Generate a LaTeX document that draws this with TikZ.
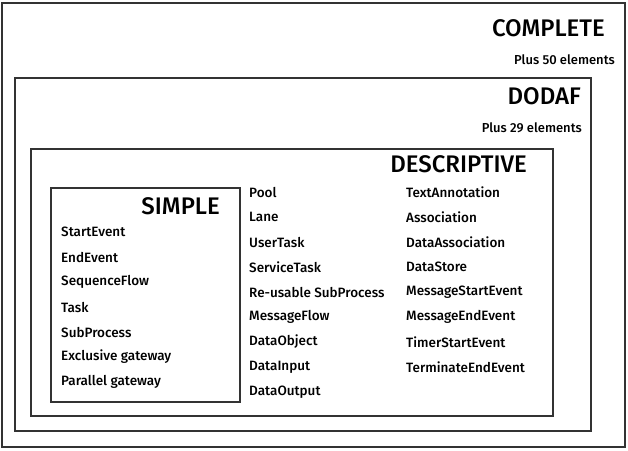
\documentclass[tikz,border=0pt]{standalone}
\usepackage{fontspec}
\setmainfont{Fira Sans}
\newfontfamily\tierfont{Fira Sans Medium}
\providecommand{\tierStroke}{black!80}
\usetikzlibrary{positioning}
\tikzset{
  tier/.style 2 args={draw=\tierStroke,line width=1.5pt,minimum width=#1,minimum height=#2,inner sep=0pt},
  head/.style={font=\tierfont\fontsize{24}{28}\selectfont,inner sep=0pt,anchor=east},
  subhead/.style={font=\tierfont\fontsize{13}{15}\selectfont,inner sep=0pt,anchor=east},
  item/.style={font=\tierfont\fontsize{13.5}{16}\selectfont,inner sep=0pt,anchor=west},
}
\begin{document}
\begin{tikzpicture}[x=1pt,y=-1pt]
  \useasboundingbox (0,0) rectangle (628,450);
% --- Tier boxes ------------------------------------------------------------

  \node[tier={623pt}{444pt}] (complete) at (313.5,225.0) {};

  \node[tier={576pt}{353pt}] (dodaf) at (303.0,254.5) {};

  \node[tier={522pt}{267pt}] (descriptive) at (292.0,282.5) {};

  \node[tier={189pt}{214pt}] (simple) at (145.5,295.0) {};

% --- Tier titles -----------------------------------------------------------

  \node[head] (completeTitle) at (605,28) {COMPLETE};
  \node[subhead] (completeNote) at (615,60) {Plus 50 elements};

  \node[head] (dodafTitle) at (581,96) {DODAF};
  \node[subhead] (dodafNote) at (582,128) {Plus 29 elements};

  \node[head] (descriptiveTitle) at (527,164) {DESCRIPTIVE};

  \node[head] (simpleTitle) at (220,206) {SIMPLE};

% --- Simple elements -------------------------------------------------------

  \node[item] (simple1) at (61,232) {StartEvent};
  \node[item] (simple2) at (61,257) {EndEvent};
  \node[item] (simple3) at (61,282) {SequenceFlow};
  \node[item] (simple4) at (61,307) {Task};
  \node[item] (simple5) at (61,332) {SubProcess};
  \node[item] (simple6) at (61,357) {Exclusive gateway};
  \node[item] (simple7) at (61,382) {Parallel gateway};

% --- Descriptive elements --------------------------------------------------

  \node[item] (desc1) at (249,192) {Pool};
  \node[item] (desc2) at (249,217) {Lane};
  \node[item] (desc3) at (249,242) {UserTask};
  \node[item] (desc4) at (249,267) {ServiceTask};
  \node[item] (desc5) at (249,292) {Re-usable SubProcess};
  \node[item] (desc6) at (249,317) {MessageFlow};
  \node[item] (desc7) at (249,342) {DataObject};
  \node[item] (desc8) at (249,367) {DataInput};
  \node[item] (desc9) at (249,392) {DataOutput};

  \node[item] (desc10) at (406,192) {TextAnnotation};
  \node[item] (desc11) at (406,217) {Association};
  \node[item] (desc12) at (406,242) {DataAssociation};
  \node[item] (desc13) at (406,267) {DataStore};
  \node[item] (desc14) at (406,292) {MessageStartEvent};
  \node[item] (desc15) at (406,317) {MessageEndEvent};
  \node[item] (desc16) at (406,342) {TimerStartEvent};
  \node[item] (desc17) at (406,367) {TerminateEndEvent};

\end{tikzpicture}
\end{document}
